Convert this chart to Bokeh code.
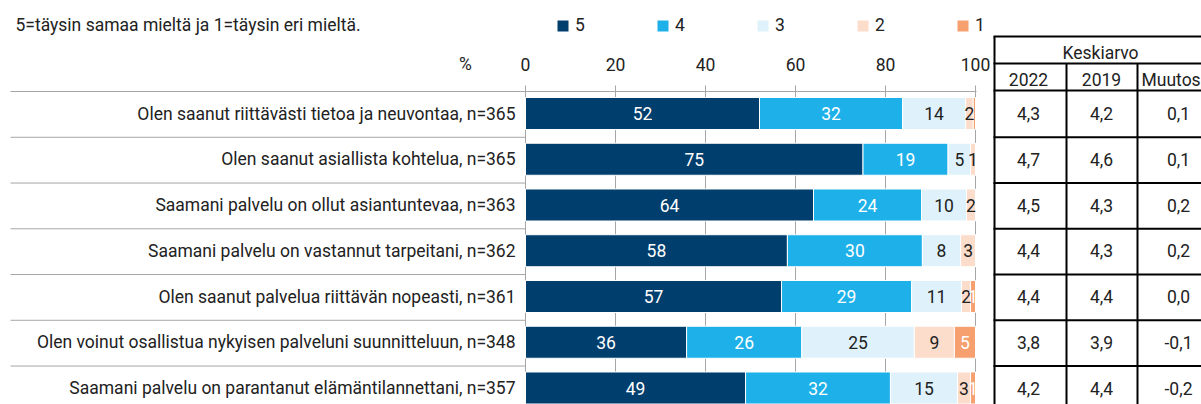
from bokeh.plotting import figure
from bokeh.models import ColumnDataSource, Range1d, Legend, LegendItem
from bokeh.embed import file_html
from bokeh.resources import INLINE
from bokeh.core.properties import value

# ---------------- data ----------------
title_text = "5=täysin samaa mieltä ja 1=täysin eri mieltä."
questions = [
    "Olen saanut riittävästi tietoa ja neuvontaa, n=365",
    "Olen saanut asiallista kohtelua, n=365",
    "Saamani palvelu on ollut asiantuntevaa, n=363",
    "Saamani palvelu on vastannut tarpeitani, n=362",
    "Olen saanut palvelua riittävän nopeasti, n=361",
    "Olen voinut osallistua nykyisen palveluni suunnitteluun, n=348",
    "Saamani palvelu on parantanut elämäntilannettani, n=357",
]
series_names = ["5", "4", "3", "2", "1"]
s5 = [52.0, 75.0, 64.0, 58.2, 56.9, 35.8, 48.9]
s4 = [31.8, 18.9, 24.0, 30.0, 28.9, 25.6, 32.2]
s3 = [14.0, 5.0, 10.0, 8.5, 11.1, 25.0, 14.9]
s2 = [1.7, 1.1, 2.0, 3.3, 2.0, 8.9, 2.9]
s1 = [0.5, 0.0, 0.0, 0.0, 1.1, 4.7, 1.1]
ticks = [0, 20, 40, 60, 80, 100]
axis_unit = "%"
table_title = "Keskiarvo"
table_cols = ["2022", "2019", "Muutos"]
avg_2022 = [4.3, 4.7, 4.5, 4.4, 4.4, 3.8, 4.2]
avg_2019 = [4.2, 4.6, 4.3, 4.3, 4.4, 3.9, 4.4]
change = [0.1, 0.1, 0.2, 0.2, 0.0, -0.1, -0.2]

# ---------------- style / layout ----------------
FONT = "Liberation Sans Narrow, Roboto"
FS = "17.5px"
TXT = "#222222"
GRAY = "#a6a6a6"
colors = ["#003e6e", "#1eb1e9", "#dff2fb", "#fcdccb", "#f5a06e"]
label_colors = ["white", "white", TXT, TXT, "white"]
W, H = 1201, 404


def xd(px):  # layout helper: canvas x -> percent scale
    return (px - 525) / 4.5


def yd(py):  # layout helper: canvas y -> row scale
    return (py - 113) / 45.75


n = len(questions)
rows_idx = list(range(n))
series = [s5, s4, s3, s2, s1]
keys = ["s5", "s4", "s3", "s2", "s1"]
src = ColumnDataSource(dict(y=rows_idx, **{k: v for k, v in zip(keys, series)}))

p = figure(width=W, height=H,
           x_range=Range1d(xd(0), xd(W)), y_range=Range1d(yd(H), yd(0)),
           x_axis_location=None, y_axis_location=None,
           output_backend="svg", toolbar_location=None,
           min_border=0, outline_line_color=None)
p.xgrid.grid_line_color = None
p.ygrid.grid_line_color = None

txt_kw = dict(text_font=value(FONT), text_font_size=FS, text_color=TXT,
              text_baseline="middle")

# ---- percent axis (drawn through the x scale) ----
nt = len(ticks)
p.segment(x0=ticks, x1=ticks, y0=[yd(91)] * nt, y1=[yd(H)] * nt,
          line_color=GRAY, line_width=1)            # grid lines
p.segment(x0=ticks, x1=ticks, y0=[yd(85)] * nt, y1=[yd(91)] * nt,
          line_color=GRAY, line_width=1)            # tick marks
p.segment(x0=[xd(10)], x1=[xd(976)], y0=[yd(91)], y1=[yd(91)],
          line_color=GRAY, line_width=1)            # axis line
p.text(x=ticks, y=[yd(64)] * nt, text=[str(t) for t in ticks],
       text_align="center", **txt_kw)
p.text(x=[xd(465)], y=[yd(63)], text=[axis_unit], text_align="center", **txt_kw)

# row separators in the label area
bounds = [i + 0.52 for i in range(n - 1)]
nb = len(bounds)
p.segment(x0=[xd(10)] * nb, x1=[0] * nb, y0=bounds, y1=bounds,
          line_color=GRAY, line_width=1)

# ---- stacked bars ----
renderers = p.hbar_stack(keys, y="y", height=0.70, color=colors, source=src,
                         line_color="white", line_width=1)

lx, ly, lt, lc = [], [], [], []
for i in range(n):
    left = 0.0
    for s, col in zip(series, label_colors):
        v = s[i]
        if v >= 0.95:
            lx.append(left + v / 2)
            ly.append(i)
            lt.append(f"{v:.0f}")
            lc.append(col)
        left += v
p.text(x="x", y="y", text="t", text_color="c",
       source=ColumnDataSource(dict(x=lx, y=ly, t=lt, c=lc)),
       text_align="center", text_baseline="middle",
       text_font=value(FONT), text_font_size=FS)

# category labels
p.text(x=[xd(515)] * n, y=rows_idx, text=questions, text_align="right", **txt_kw)

# title
p.text(x=[xd(15)], y=[yd(24)], text=[title_text], text_align="left", **txt_kw)

# legend
legend = Legend(items=[LegendItem(label=nm, renderers=[r])
                       for nm, r in zip(series_names, renderers)],
                orientation="horizontal", location=(555, 369),
                glyph_width=15, glyph_height=15, label_standoff=5, spacing=60,
                padding=0, margin=0, border_line_color=None, background_fill_alpha=0,
                label_text_font=FONT, label_text_font_size=FS, label_text_color=TXT,
                label_text_baseline="alphabetic")
p.add_layout(legend, "center")

# ---- table of means ----
hy = [yd(36), yd(63), yd(90)] + bounds
p.segment(x0=[xd(993)] * len(hy), x1=[xd(W)] * len(hy), y0=hy, y1=hy,
          line_color="black", line_width=2)
vx = [xd(994), xd(1066), xd(1137)]
p.segment(x0=vx, x1=vx, y0=[yd(36), yd(63), yd(63)], y1=[yd(H)] * 3,
          line_color="black", line_width=2)

col_centers = [xd(1028), xd(1101), xd(1178)]
p.text(x=[xd(1100)], y=[yd(52)], text=[table_title], text_align="center", **txt_kw)
p.text(x=col_centers[:2], y=[yd(79)] * 2, text=table_cols[:2], text_align="center", **txt_kw)
p.text(x=[xd(1141)], y=[yd(79)], text=table_cols[2:], text_align="left", **txt_kw)


def fmt(v):
    return f"{v:.1f}".replace(".", ",")


tx, ty, tt = [], [], []
for j, vals in enumerate([avg_2022, avg_2019, change]):
    for i, v in enumerate(vals):
        tx.append(col_centers[j])
        ty.append(i)
        tt.append(fmt(v))
p.text(x=tx, y=ty, text=tt, text_align="center", **txt_kw)

open("out.html", "w").write(file_html(p, INLINE))
